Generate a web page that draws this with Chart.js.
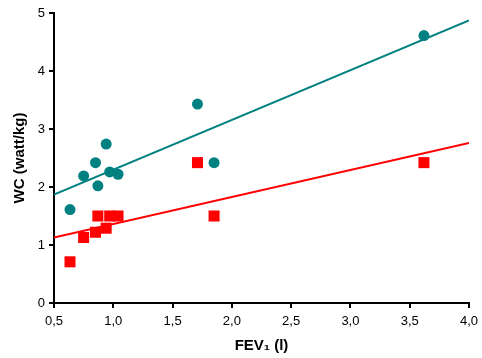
<!DOCTYPE html>
<html lang="en">
<head>
    <meta charset="UTF-8">
    <title>WC vs FEV1</title>
    <script src="https://cdn.jsdelivr.net/npm/chart.js"></script>
    <style>
        body {
            margin: 0;
            padding: 0;
            background-color: #fff;
        }
        .wrap {
            width: 482px;
            height: 358px;
        }
    </style>
</head>
<body>
    <div class="wrap">
        <canvas id="wcChart" width="482" height="358"></canvas>
    </div>

    <script>
        // measured points
        const fev1 = [0.635, 0.75, 0.85, 0.87, 0.94, 0.97, 1.04, 1.71, 1.85, 3.62];
        const wcCircles = [1.61, 2.19, 2.42, 2.02, 2.74, 2.26, 2.22, 3.43, 2.42, 4.61];
        const fev1Squares = [0.635, 0.75, 0.85, 0.87, 0.94, 0.97, 1.04, 1.71, 1.85, 3.62];
        const wcSquares = [0.71, 1.13, 1.22, 1.50, 1.29, 1.50, 1.50, 2.42, 1.50, 2.42];

        // regression lines (end points)
        const lineX = [0.5, 4.0];
        const tealLine = [1.87, 4.87];
        const redLine = [1.13, 2.76];

        const teal = '#008080';
        const red = '#ff0000';

        const toXY = (xs, ys) => xs.map((x, i) => ({ x: x, y: ys[i] }));

        const ctx = document.getElementById('wcChart').getContext('2d');
        new Chart(ctx, {
            data: {
                datasets: [
                    {
                        type: 'line',
                        data: toXY(lineX, tealLine),
                        borderColor: teal,
                        borderWidth: 2,
                        pointRadius: 0,
                        fill: false
                    },
                    {
                        type: 'line',
                        data: toXY(lineX, redLine),
                        borderColor: red,
                        borderWidth: 2,
                        pointRadius: 0,
                        fill: false
                    },
                    {
                        type: 'scatter',
                        data: toXY(fev1, wcCircles),
                        backgroundColor: teal,
                        borderColor: teal,
                        borderWidth: 0,
                        pointStyle: 'circle',
                        pointRadius: 5.5
                    },
                    {
                        type: 'scatter',
                        data: toXY(fev1Squares, wcSquares),
                        backgroundColor: red,
                        borderColor: red,
                        borderWidth: 0,
                        pointStyle: 'rect',
                        pointRadius: 7.8
                    }
                ]
            },
            options: {
                responsive: false,
                animation: false,
                layout: {
                    padding: { left: 0, right: 13, top: 13, bottom: 0 }
                },
                plugins: {
                    legend: { display: false },
                    tooltip: { enabled: false }
                },
                scales: {
                    x: {
                        type: 'linear',
                        min: 0.5,
                        max: 4.0,
                        afterFit: (scale) => {
                            scale.height = 55;
                            scale.paddingLeft = 0;
                            scale.paddingRight = 0;
                        },
                        border: { color: '#000', width: 2 },
                        grid: {
                            drawOnChartArea: false,
                            color: '#000',
                            lineWidth: 2,
                            tickLength: 5
                        },
                        ticks: {
                            stepSize: 0.5,
                            color: '#000',
                            padding: 6,
                            maxRotation: 0,
                            font: { family: 'Arial, "Liberation Sans"', size: 13 },
                            callback: (v) => v.toFixed(1).replace('.', ',')
                        },
                        title: {
                            display: true,
                            text: 'FEV\u2081 (l)',
                            color: '#000',
                            padding: { top: 0, bottom: 3 },
                            font: { family: 'Arial, "Liberation Sans"', size: 15, weight: 'bold' }
                        }
                    },
                    y: {
                        min: 0,
                        max: 5,
                        afterFit: (scale) => {
                            scale.width = 54;
                            scale.paddingTop = 0;
                            scale.paddingBottom = 0;
                        },
                        border: { color: '#000', width: 2 },
                        grid: {
                            drawOnChartArea: false,
                            color: '#000',
                            lineWidth: 2,
                            tickLength: 5
                        },
                        ticks: {
                            stepSize: 1,
                            color: '#000',
                            padding: 4,
                            font: { family: 'Arial, "Liberation Sans"', size: 13 }
                        },
                        title: {
                            display: true,
                            text: 'WC (watt/kg)',
                            color: '#000',
                            padding: { top: 11, bottom: 0 },
                            font: { family: 'Arial, "Liberation Sans"', size: 15, weight: 'bold' }
                        }
                    }
                }
            }
        });
    </script>
</body>
</html>
